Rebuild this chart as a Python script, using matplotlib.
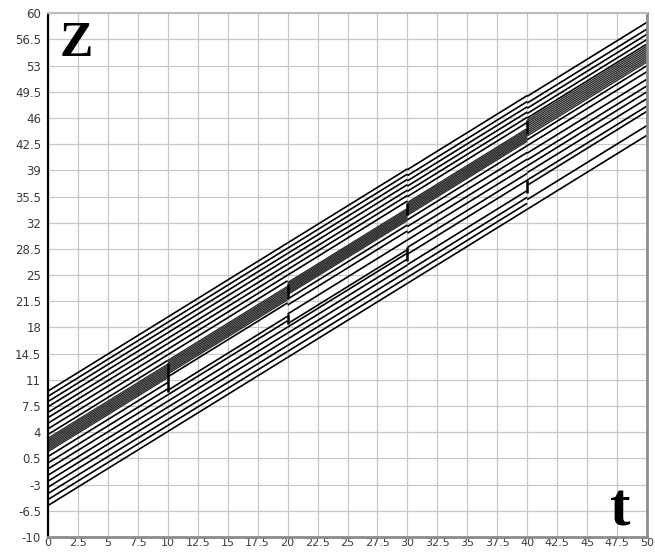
import matplotlib.pyplot as plt
import numpy as np

# z = SLOPE * t + offset, one offset list per 10-unit time window
SLOPE = 0.99
t_breaks = [0, 10, 20, 30, 40, 50]

lines_0 = [9.5, 8.8, 8.1, 7.4, 6.65, 5.95, 5.2, 4.45, 3.7,
           0.75, -0.1, -0.9, -1.75, -2.55, -3.35, -4.2, -5.0, -5.8]
lines_1 = [9.5, 8.8, 8.1, 7.4, 6.65, 5.95, 5.2, 4.45,
           1.5, -0.3, -0.9, -1.75, -2.55, -3.35, -4.2, -5.0, -5.8]
lines_2 = [9.5, 8.8, 8.1, 7.4, 6.65, 5.95, 5.2,
           2.0, 1.2, 0.0, -1.3, -1.75, -2.55, -3.35, -4.2, -5.0, -5.8]
lines_3 = [9.4, 8.6, 7.9, 7.2, 6.5, 5.8,
           2.7, 1.8, 0.9, 0.0, -1.0, -1.9, -3.3, -4.2, -5.0, -5.8]
lines_4 = [9.3, 8.4, 7.7, 7.0, 6.4,
           3.5, 2.7, 1.7, 0.8, 0.0, -0.9, -1.9, -2.6, -4.5, -5.8]
window_lines = [lines_0, lines_1, lines_2, lines_3, lines_4]

# dense bundle (reads as the grey band)
band_lo = [1.4, 1.9, 2.6, 3.3, 4.0]
band_hi = [3.2, 3.7, 4.2, 5.0, 6.1]
band_count = 9

# vertical jumps (t, z from, z to)
jump_t = [10, 20, 20, 30, 30, 40, 40]
jump_z0 = [9.4, 21.8, 18.4, 33.1, 26.9, 43.9, 36.0]
jump_z1 = [13.2, 23.8, 19.8, 34.6, 28.7, 45.7, 37.7]

x_ticks = np.arange(0, 50.01, 2.5)
y_ticks = np.arange(-10, 60.01, 3.5)

fig = plt.figure(figsize=(6.55, 5.53), dpi=100)
ax = fig.add_axes([0.0733, 0.029, 0.9145, 0.947])

for k in range(5):
    t = np.array([t_breaks[k], t_breaks[k + 1]])
    for c in window_lines[k]:
        ax.plot(t, SLOPE * t + c, color="black", lw=1.2, solid_capstyle="butt")
    for c in np.linspace(band_lo[k], band_hi[k], band_count):
        ax.plot(t, SLOPE * t + c, color="#2a2a2a", lw=1.0, solid_capstyle="butt")

ax.vlines(jump_t, jump_z0, jump_z1, color="black", lw=1.8)

ax.set_xlim(0, 50)
ax.set_ylim(-10, 60)
ax.set_xticks(x_ticks)
ax.set_yticks(y_ticks)
ax.set_xticklabels([f"{v:g}" for v in x_ticks])
ax.set_yticklabels([f"{v:g}" for v in y_ticks])
ax.tick_params(length=0, labelsize=8.5, colors="#3a3a3a")
ax.tick_params(axis="x", labelsize=8, pad=1)
ax.tick_params(axis="y", pad=5)
ax.grid(color="#c8c8c8", lw=0.9)
ax.set_axisbelow(True)

ax.spines["top"].set_color("#bdbdbd")
ax.spines["top"].set_linewidth(1.5)
for side in ["right", "bottom"]:
    ax.spines[side].set_color("#8c8c8c")
    ax.spines[side].set_linewidth(2.0)
ax.spines["left"].set_color("black")
ax.spines["left"].set_linewidth(1.6)

ax.text(0.02, 0.985, "Z", transform=ax.transAxes, family="Liberation Serif",
        fontsize=36, fontweight="bold", va="top", ha="left")
ax.text(0.972, 0.022, "t", transform=ax.transAxes, family="Liberation Serif",
        fontsize=44, fontweight="bold", va="baseline", ha="right")

fig.savefig("out.png", dpi=100)
